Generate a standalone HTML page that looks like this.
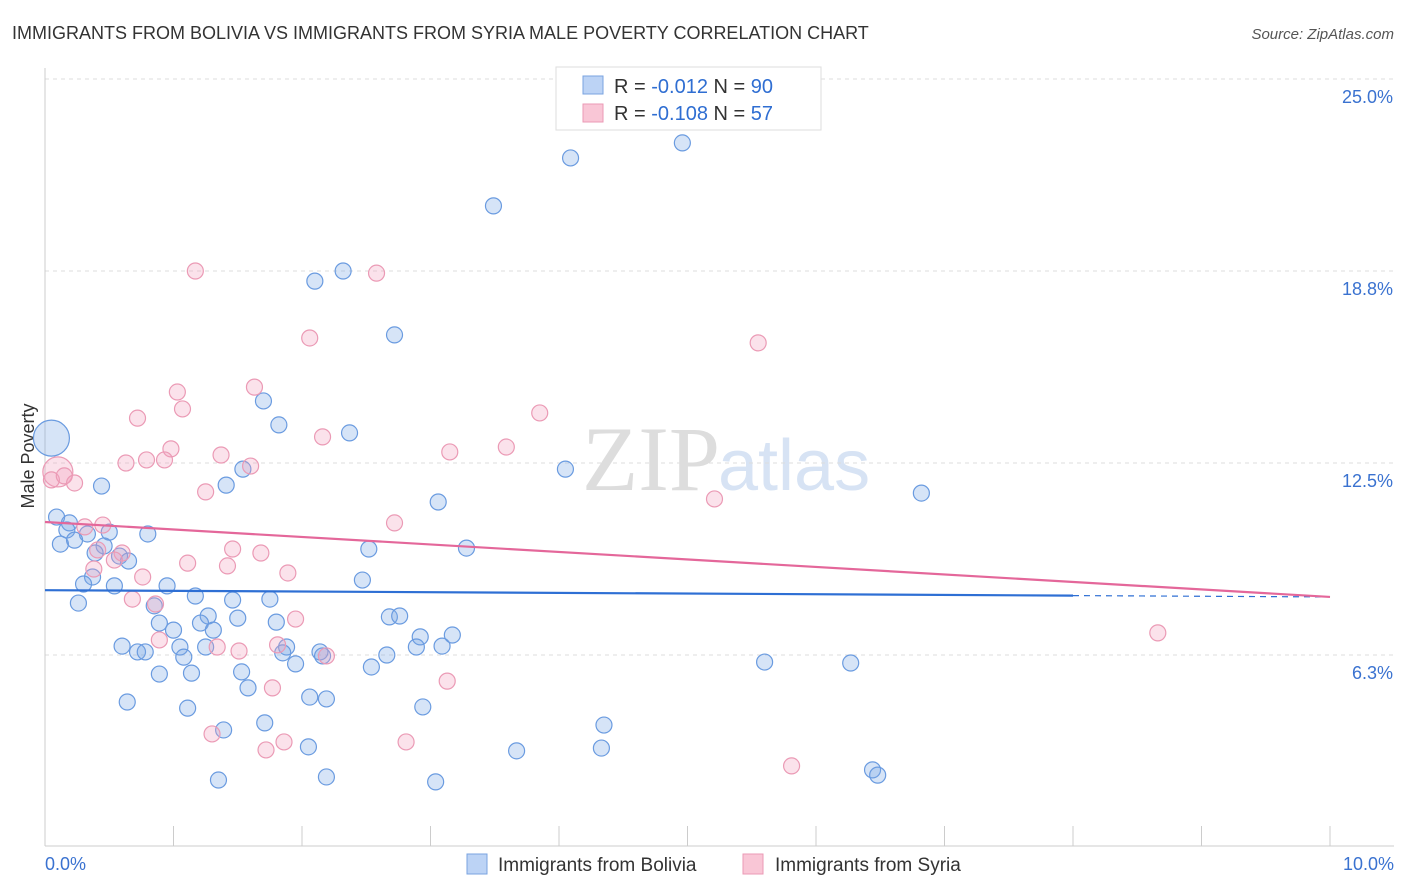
<!DOCTYPE html>
<html><head><meta charset="utf-8"><style>
body{margin:0;background:#fff;font-family:"Liberation Sans",sans-serif;}
svg{display:block}
</style></head><body>
<svg width="1406" height="892" id="svg">
<text x="12" y="39" font-size="18" fill="#333">IMMIGRANTS FROM BOLIVIA VS IMMIGRANTS FROM SYRIA MALE POVERTY CORRELATION CHART</text>
<text x="1394" y="39" font-size="15" fill="#555" font-style="italic" text-anchor="end">Source: ZipAtlas.com</text>
<text x="720" y="490" font-size="92" fill="#ddd" text-anchor="end" font-family="Liberation Serif">ZIP</text>
<text x="718" y="490" font-size="72" fill="#d7e3f4">atlas</text>
<text x="34" y="456" font-size="18" fill="#333" text-anchor="middle" transform="rotate(-90 34 456)">Male Poverty</text>
<g id="grid"></g><g id="marks"></g>
<g>
<rect x="556" y="67" width="265" height="63" fill="#fff" stroke="#ddd"/>
<rect x="583" y="76" width="20" height="18" fill="#bcd3f5" stroke="#7aa3e0"/>
<rect x="583" y="104" width="20" height="18" fill="#f9c6d6" stroke="#eb9ab5"/>
<text x="614" y="93" font-size="20" fill="#333">R = <tspan fill="#2f6ed2">-0.012</tspan>   N = <tspan fill="#2f6ed2">90</tspan></text>
<text x="614" y="120" font-size="20" fill="#333">R = <tspan fill="#2f6ed2">-0.108</tspan>   N = <tspan fill="#2f6ed2"> 57</tspan></text>
</g>
<g>
<rect x="467" y="854" width="20" height="20" fill="#bcd3f5" stroke="#7aa3e0"/>
<text x="498" y="871" font-size="19" fill="#333">Immigrants from Bolivia</text>
<rect x="743" y="854" width="20" height="20" fill="#f9c6d6" stroke="#eb9ab5"/>
<text x="775" y="871" font-size="19" fill="#333">Immigrants from Syria</text>
</g>
<text x="45" y="870" font-size="18" fill="#3a72d0">0.0%</text>
<text x="1394" y="870" font-size="18" fill="#3a72d0" text-anchor="end">10.0%</text>
</svg>
<script>
const yTicks=[25,18.75,12.5,6.25];
const yTickLabels=["25.0%","18.8%","12.5%","6.3%"];
const xTicks=[0,1,2,3,4,5,6,7,8,9,10];
const boliviaX=[.05,4.09,4.96,3.49,2.10,2.32,2.72,1.70,1.82,2.37,4.05,6.82,.44,1.41,1.54,3.06,.09,.19,.17,.33,.50,.12,.23,.46,.80,.39,.58,.65,3.28,2.52,.37,.30,.54,.95,2.47,1.17,1.46,1.75,.26,.85,1.27,1.50,.89,1.21,1.00,1.31,1.80,2.68,2.76,2.92,3.17,.60,.72,.78,1.05,1.08,1.25,1.88,1.85,1.95,2.14,2.16,2.66,2.89,3.09,2.54,.89,1.14,1.53,1.58,2.06,2.19,.64,1.11,2.94,1.39,1.71,4.35,5.60,6.27,2.05,3.67,4.33,6.44,6.48,1.35,2.19,3.04];
const boliviaY=[13.31,22.43,22.92,20.87,18.42,18.75,16.67,14.52,13.74,13.48,12.30,11.52,11.75,11.78,12.30,11.23,10.74,10.55,10.32,10.19,10.25,9.86,9.99,9.80,10.19,9.57,9.47,9.31,9.73,9.70,8.79,8.56,8.50,8.50,8.69,8.17,8.04,8.07,7.94,7.85,7.52,7.45,7.29,7.29,7.06,7.06,7.32,7.49,7.52,6.84,6.90,6.54,6.35,6.35,6.51,6.18,6.51,6.51,6.32,5.96,6.35,6.22,6.25,6.51,6.54,5.86,5.63,5.66,5.70,5.18,4.88,4.82,4.72,4.52,4.56,3.81,4.04,3.97,6.02,5.99,3.26,3.13,3.22,2.51,2.34,2.18,2.28,2.12];
const syriaX=[.10,.05,.15,.23,1.17,2.58,2.06,5.55,1.63,1.03,.72,1.07,3.85,.98,.63,.79,.93,1.37,1.60,2.16,3.15,3.59,1.25,5.21,2.72,.31,.45,.41,.60,.54,1.46,1.68,1.11,1.42,1.89,.38,.76,.68,.86,1.95,.89,1.34,1.51,1.81,2.19,3.13,1.77,8.66,1.30,1.86,1.72,2.81,5.81];
const syriaY=[12.21,11.95,12.08,11.85,18.75,18.68,16.57,16.41,14.97,14.81,13.96,14.26,14.13,12.96,12.50,12.60,12.60,12.76,12.40,13.35,12.86,13.02,11.56,11.33,10.55,10.42,10.48,9.67,9.57,9.34,9.70,9.57,9.24,9.15,8.92,9.05,8.79,8.07,7.91,7.42,6.74,6.51,6.38,6.58,6.22,5.40,5.18,6.97,3.68,3.42,3.16,3.42,2.64];
const boliviaTrend=[8.36,8.14];
const syriaTrend=[10.58,8.14];
const X=v=>45+v*128.5, Y=v=>847-v*30.72;
const NS="http://www.w3.org/2000/svg";
function mk(t,a,p){const e=document.createElementNS(NS,t);for(const k in a)e.setAttribute(k,a[k]);p.appendChild(e);return e;}
const g=document.getElementById('grid'),m=document.getElementById('marks');
yTicks.forEach((t,i)=>{
 const l=mk('line',{x1:45,x2:1394,y1:Y(t),y2:Y(t),stroke:'#ddd','stroke-dasharray':'4,4'},g);
 
 
 const tx=mk('text',{x:1393,y:Y(t)+24,'font-size':18,fill:'#3a72d0','text-anchor':'end'},g);tx.textContent=yTickLabels[i];
 
 
});
mk('line',{x1:45,x2:45,y1:68,y2:846,stroke:'#ccc'},g);
mk('line',{x1:45,x2:1394,y1:846,y2:846,stroke:'#ccc'},g);
xTicks.forEach(t=>{const l=mk('line',{x1:X(t),x2:X(t),y1:826,y2:846,stroke:'#ccc'},g);
 
 });
function pts(xs,ys,fill,stroke,name,big){xs.forEach((x,i)=>{const c=mk('circle',{cx:X(x),cy:Y(ys[i]),r:i===0?big:8,fill:fill,stroke:stroke,'stroke-width':1.2},m);
 
 });}
pts(boliviaX,boliviaY,'rgba(120,165,230,0.3)','#6a9be0','bolivia-point',18);
pts(syriaX,syriaY,'rgba(242,160,188,0.3)','#eb9ab5','syria-point',15);
const bs=(v)=>boliviaTrend[0]+(boliviaTrend[1]-boliviaTrend[0])*v/10;
let l1=mk('line',{x1:X(0),y1:Y(bs(0)),x2:X(8),y2:Y(bs(8)),stroke:'#2e6fd4','stroke-width':2.2},m);


mk('line',{x1:X(8),y1:Y(bs(8)),x2:X(10),y2:Y(bs(10)),stroke:'#2e6fd4','stroke-width':1.2,'stroke-dasharray':'6,5'},m);
let l2=mk('line',{x1:X(0),y1:Y(syriaTrend[0]),x2:X(10),y2:Y(syriaTrend[1]),stroke:'#e4679a','stroke-width':2.2},m);


</script>
</body></html>
